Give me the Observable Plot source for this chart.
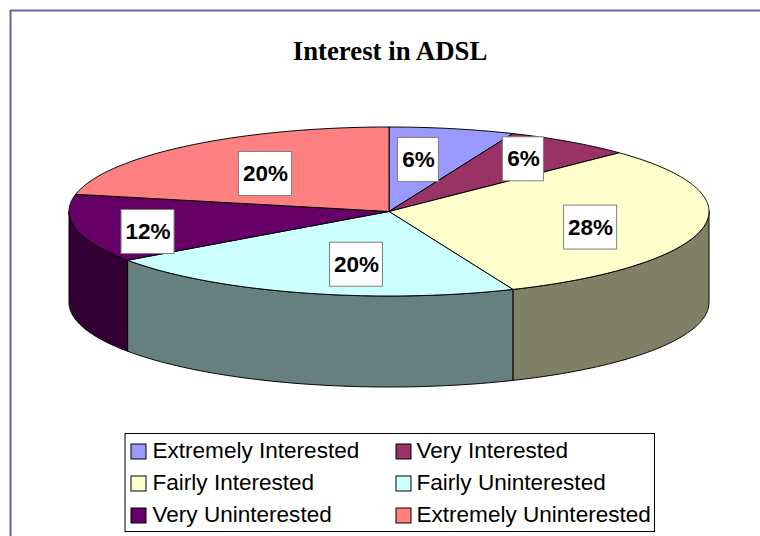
<!DOCTYPE html>
<html>
<head>
<meta charset="utf-8">
<style>html,body{margin:0;padding:0;background:#fff;overflow:hidden}svg{display:block}</style>
<script src="https://cdn.jsdelivr.net/npm/d3@7"></script>
<script src="https://cdn.jsdelivr.net/npm/@observablehq/plot@0.6"></script>
</head>
<body>
<script>
const chartTitle = "Interest in ADSL";
const categories = ["Extremely Interested","Very Interested","Fairly Interested","Fairly Uninterested","Very Uninterested","Extremely Uninterested"];
const percentages = [6,6,28,20,12,20];
const topColors = ["#9999FF","#993366","#FFFFCC","#CCFFFF","#660066","#FF8080"];
const wallColors = ["#4D4D80","#4D1A33","#808066","#668080","#330033","#804040"];
// Hand placement of each percentage label relative to the pie, in fractions of the radii
const labelAnchors = [[0.092,-0.61],[0.42,-0.618],[0.63,0.19],[-0.1016,0.63],[-0.753,0.243],[-0.386,-0.444]];

const cx = 388.5, cy = 211, rx = 320, ry = 84.5, depth = 91;
// slight foreshortening of the right half, as in the 3-D projection of the original
const warp = a => a < Math.PI ? a - 0.0168 * Math.sin(2 * a) : a;
const pt = (a, dy = 0) => {
  const w = warp(a);
  return [cx + rx * Math.sin(w), cy - ry * Math.cos(w) + dy];
};
const arcPts = (a0, a1, dy = 0) => {
  const n = Math.max(2, Math.ceil((a1 - a0) / 0.01));
  return d3.range(n + 1).map(i => pt(a0 + (a1 - a0) * i / n, dy));
};
const arcs = d3.pie().sort(null)(percentages);

const tops = arcs.flatMap((s, i) => {
  const pts = [[cx, cy], ...arcPts(s.startAngle, s.endAngle), [cx, cy]];
  return pts.map(([x, y]) => ({x, y, id: i, fill: topColors[i]}));
});
const walls = arcs.flatMap((s, i) => {
  const a0 = Math.max(s.startAngle, Math.PI / 2), a1 = Math.min(s.endAngle, 3 * Math.PI / 2);
  if (a1 <= a0) return [];
  const pts = [...arcPts(a0, a1), ...arcPts(a0, a1, depth).reverse()];
  pts.push(pts[0]);
  return pts.map(([x, y]) => ({x, y, id: i, fill: wallColors[i]}));
});
const labels = percentages.map((p, i) => {
  const text = p + "%", w = text.length > 2 ? 53 : 41;
  return {text, w, x: cx + labelAnchors[i][0] * rx, y: cy + labelAnchors[i][1] * ry};
});
const legendRows = categories.map((name, i) => ({
  name, fill: topColors[i],
  sx: i % 2 ? 396 : 131,
  tx: i % 2 ? 416 : 152,
  y: 450.5 + 32 * Math.floor(i / 2)
}));

const sans = "'Liberation Sans', Arial, sans-serif";
const chart = Plot.plot({
  width: 760, height: 536,
  margin: 0,
  x: {domain: [0, 760], range: [0, 760], axis: null},
  y: {domain: [0, 536], range: [0, 536], axis: null},
  color: {type: "identity"},
  style: {background: "#fff"},
  marks: [
    Plot.ruleX([10], {y1: () => 10, y2: () => 536, stroke: "#666699", strokeWidth: 2}),
    Plot.ruleY([10], {x1: () => 10, x2: () => 760, stroke: "#666699", strokeWidth: 2}),
    Plot.text([chartTitle], {x: () => 389.5, y: () => 51.4, text: d => d, fontFamily: "'Liberation Serif', 'Times New Roman', serif", fontWeight: "bold", fontSize: 26.8, fill: "#000"}),
    Plot.line(walls, {x: "x", y: "y", z: "id", fill: "fill", stroke: "#000", strokeWidth: 1}),
    Plot.line(tops, {x: "x", y: "y", z: "id", fill: "fill", stroke: "#000", strokeWidth: 1}),
    Plot.rect(labels, {x1: d => d.x - d.w / 2, x2: d => d.x + d.w / 2, y1: d => d.y - 22, y2: d => d.y + 22, fill: "#fff", stroke: "#808080", strokeWidth: 1}),
    Plot.text(labels, {x: "x", y: "y", text: "text", fontFamily: sans, fontWeight: "bold", fontSize: 22.5, fill: "#000"}),
    Plot.rect([0], {x1: () => 125, x2: () => 654.5, y1: () => 433.5, y2: () => 531.5, fill: "#fff", stroke: "#000", strokeWidth: 1}),
    Plot.rect(legendRows, {x1: d => d.sx, x2: d => d.sx + 15, y1: d => d.y - 6.5, y2: d => d.y + 8.5, fill: "fill", stroke: "#000", strokeWidth: 1}),
    Plot.text(legendRows, {x: "tx", y: "y", text: "name", textAnchor: "start", fontFamily: sans, fontSize: 22.55, fill: "#000"})
  ]
});
document.body.appendChild(chart);
</script>
</body>
</html>
